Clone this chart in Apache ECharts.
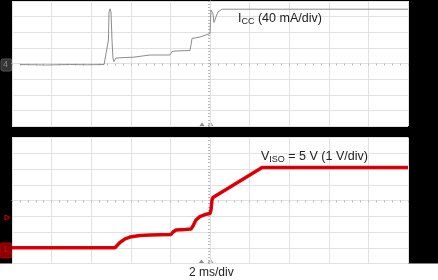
<!DOCTYPE html>
<html>
<head>
<meta charset="utf-8">
<script src="https://cdn.jsdelivr.net/npm/echarts@6/dist/echarts.min.js"></script>
<style>html,body{margin:0;padding:0;background:#fff}#c{width:438px;height:280px}</style>
</head>
<body>
<div id="c"></div>
<script>
// Time axis: 2 ms/div, trigger at centre (ms)
const timeMin = -10, timeMax = 10, timeDiv = 2;
// I_CC scale: 40 mA/div
const iccMin = -160, iccMax = 160, iccDiv = 40;
// V_ISO scale: 1 V/div
const visoMin = -1, visoMax = 7, visoDiv = 1;

// I_CC trace (ms, mA)
const iccTime  = [-9.6, -8.3, -7.1, -6.2, -5.35, -5.25, -5.13, -5.10, -5.05, -5.00, -4.95, -4.90, -4.85, -4.80, -4.75, -4.70, -4.29, -3.89, -3.79, -3.03, -2.02, -1.92, -1.77, -1.01, -0.96, -0.91, -0.51, 0.00, 0.025, 0.05, 0.10, 0.15, 0.20, 0.25, 0.30, 0.40, 0.50, 0.61, 10.0];
const iccValue = [-2.6, -3.8, -2.6, -3.2, -2.6, 1.3, 60, 132, 140, 132, 60, 14, 5, 7.7, 14, 16, 15.4, 16, 20.5, 21.8, 21.8, 30.7, 32, 33.3, 47.4, 64, 67.8, 76.8, 111, 137, 142, 127, 105, 106, 119, 132, 137, 139, 139];

// V_ISO trace (ms, V)
const visoTime  = [-10.0, -4.80, -4.70, -4.55, -4.29, -4.04, -3.54, -3.03, -1.97, -1.87, -1.72, -1.26, -0.96, -0.86, -0.71, -0.51, -0.25, 0.00, 0.05, 0.10, 0.15, 2.63, 10.0];
const visoValue = [0.0, 0.0, 0.11, 0.33, 0.56, 0.68, 0.78, 0.81, 0.84, 1.0, 1.13, 1.16, 1.19, 1.38, 1.76, 1.98, 2.11, 2.17, 2.40, 3.03, 3.19, 5.10, 5.10];

const zip = (a, b) => a.map((v, i) => [v, b[i]]);

const gridCol = '#dfe2df';
const tickCol = '#b8b8b8';
function xAx(gi, off) {
  return {
    gridIndex: gi, type: 'value', min: timeMin, max: timeMax, interval: timeDiv,
    position: 'bottom', offset: off,
    axisLabel: { show: false },
    axisLine: { show: true, onZero: false, lineStyle: { color: gridCol } },
    axisTick: { show: true, length: 2, lineStyle: { color: tickCol } },
    minorTick: { show: true, splitNumber: 5, length: 2, lineStyle: { color: tickCol } },
    splitLine: { show: true, lineStyle: { color: gridCol, width: 1 } }
  };
}
function yAx(gi, mn, mx, iv) {
  return {
    gridIndex: gi, type: 'value', min: mn, max: mx, interval: iv,
    position: 'left', offset: -198,
    axisLabel: { show: false },
    axisLine: { show: true, onZero: false, lineStyle: { color: gridCol } },
    axisTick: { show: true, length: 2, lineStyle: { color: tickCol } },
    minorTick: { show: true, splitNumber: 5, length: 2, lineStyle: { color: tickCol } },
    splitLine: { show: true, lineStyle: { color: gridCol, width: 1 } }
  };
}

const chart = echarts.init(document.getElementById('c'), null, { renderer: 'canvas' });
const font = '"Liberation Sans", Arial, sans-serif';
const richStyle = {
  m: { fontFamily: font, fontSize: 12.5, fontWeight: 'normal', color: '#222', lineHeight: 16, verticalAlign: 'bottom' },
  s: { fontFamily: font, fontSize: 9, fontWeight: 'normal', color: '#222', lineHeight: 12, verticalAlign: 'bottom', padding: [0, 0, -1, 0] }
};
chart.setOption({
  animation: false,
  backgroundColor: '#ffffff',
  grid: [
    { left: 12, top: 1, width: 396, height: 125, show: true, backgroundColor: '#ffffff', borderWidth: 0 },
    { left: 12, top: 137.5, width: 396, height: 126, show: true, backgroundColor: '#ffffff', borderWidth: 0 }
  ],
  xAxis: [xAx(0, -62.5), xAx(1, -63)],
  yAxis: [yAx(0, iccMin, iccMax, iccDiv), yAx(1, visoMin, visoMax, visoDiv)],
  title: [
    {
      left: 238, top: 9, padding: 0,
      text: '{m|I}{s|CC}{m| (40 mA/div)}',
      textStyle: { fontWeight: 'normal', rich: richStyle }
    },
    {
      left: 261, top: 147, padding: 0,
      text: '{m|V}{s|ISO}{m| = 5 V (1 V/div)}',
      textStyle: { fontWeight: 'normal', rich: richStyle }
    },
    {
      left: 189, top: 267, padding: 0,
      text: '2 ms/div',
      textStyle: { fontFamily: font, fontSize: 12, fontWeight: 'normal', color: '#222' }
    }
  ],
  graphic: [
    // black frame
    { type: 'rect', shape: { x: 0, y: 0, width: 12, height: 263.5 }, style: { fill: '#000' } },
    { type: 'rect', shape: { x: 408, y: 0, width: 30, height: 263.5 }, style: { fill: '#000' } },
    { type: 'rect', shape: { x: 12, y: 126, width: 396, height: 11.5 }, style: { fill: '#000' } },
    { type: 'rect', shape: { x: 12, y: 0, width: 396, height: 1 }, style: { fill: '#000' } },
    // channel markers
    { type: 'rect', shape: { x: 1, y: 59, width: 11, height: 12, r: 2 }, style: { fill: '#333', stroke: '#555' } },
    { type: 'text', style: { x: 3, y: 60, text: '4', fill: '#888', font: '9px ' + font } },
    { type: 'rect', shape: { x: 0, y: 243, width: 12, height: 15, r: 2 }, style: { fill: '#8a0000', stroke: '#b00000' } },
    { type: 'text', style: { x: 3, y: 245, text: '1', fill: '#e00000', font: '9px ' + font } },
    { type: 'polygon', shape: { points: [[5, 215], [10, 217.5], [5, 220]] }, style: { fill: 'none', stroke: '#e00000', lineWidth: 1 } },
    // trigger position markers
    { type: 'polygon', shape: { points: [[199.5, 126], [202, 122.5], [204.5, 126]] }, style: { fill: '#888' } },
    { type: 'polygon', shape: { points: [[208, 126], [210.5, 122.5], [213, 126]] }, style: { fill: '#fff', stroke: '#999', lineWidth: 1 } },
    { type: 'polygon', shape: { points: [[199, 263], [201.5, 259.5], [204, 263]] }, style: { fill: '#888' } },
    { type: 'polygon', shape: { points: [[208, 263], [210.5, 259.5], [213, 263]] }, style: { fill: '#fff', stroke: '#999', lineWidth: 1 } }
  ],
  series: [
    {
      type: 'line', xAxisIndex: 0, yAxisIndex: 0, data: zip(iccTime, iccValue),
      showSymbol: false, silent: true,
      lineStyle: { color: '#8c8c8c', width: 1 }
    },
    {
      type: 'line', xAxisIndex: 1, yAxisIndex: 1, data: zip(visoTime, visoValue),
      showSymbol: false, silent: true,
      lineStyle: { color: '#e8000a', width: 3.5 }
    },
    {
      type: 'line', xAxisIndex: 1, yAxisIndex: 1, data: zip(visoTime, visoValue),
      showSymbol: false, silent: true,
      lineStyle: { color: '#7a0000', width: 0.6, opacity: 0.6 }
    }
  ]
});
</script>
</body>
</html>
